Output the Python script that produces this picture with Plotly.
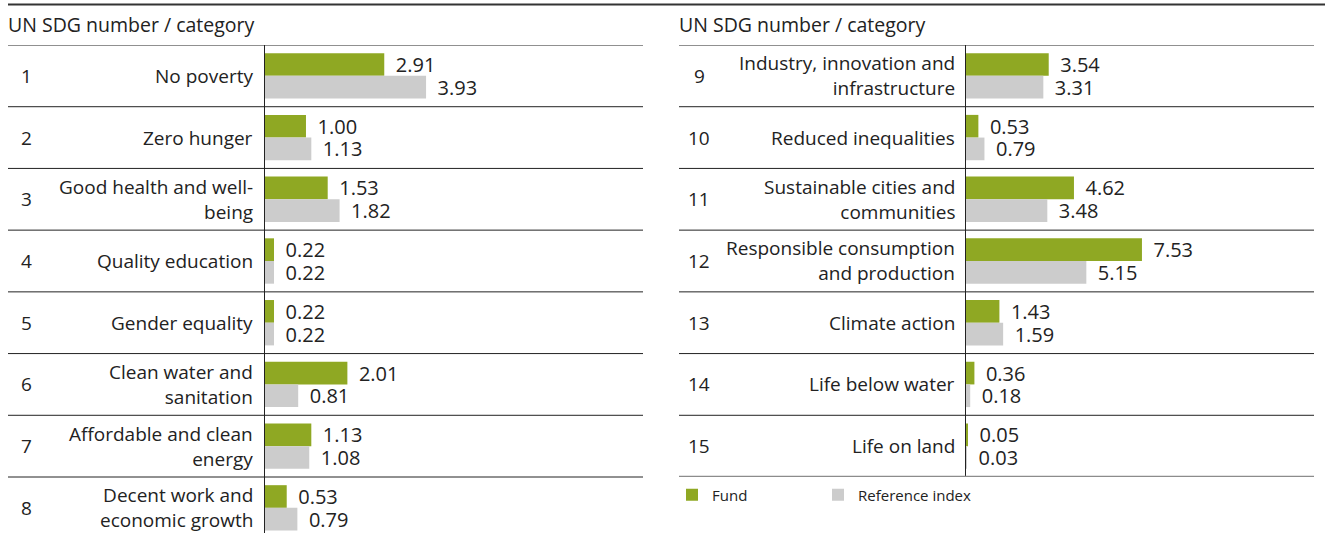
import plotly.graph_objects as go

W, H = 1325, 533

# ---------------- data ----------------
left_numbers = ["1", "2", "3", "4", "5", "6", "7", "8"]
left_categories = [
    "No poverty",
    "Zero hunger",
    "Good health and well-<br>being",
    "Quality education",
    "Gender equality",
    "Clean water and<br>sanitation",
    "Affordable and clean<br>energy",
    "Decent work and<br>economic growth",
]
left_fund = [2.91, 1.00, 1.53, 0.22, 0.22, 2.01, 1.13, 0.53]
left_ref = [3.93, 1.13, 1.82, 0.22, 0.22, 0.81, 1.08, 0.79]

right_numbers = ["9", "10", "11", "12", "13", "14", "15"]
right_categories = [
    "Industry, innovation and<br>infrastructure",
    "Reduced inequalities",
    "Sustainable cities and<br>communities",
    "Responsible consumption<br>and production",
    "Climate action",
    "Life below water",
    "Life on land",
]
right_fund = [3.54, 0.53, 4.62, 7.53, 1.43, 0.36, 0.05]
right_ref = [3.31, 0.79, 3.48, 5.15, 1.59, 0.18, 0.03]

series_names = ["Fund", "Reference index"]
header = "UN SDG number / category"

# ---------------- style ----------------
GREEN = "#8fa823"
GREY = "#cccccc"
TEXT = "#222222"
FONT = "Open Sans"
FS = 19

def px(x):
    return x / W

def py(y):
    return 1 - y / H

fig = go.Figure()

def add_bars(cats, fund, ref, xa, ya, show):
    for k, (name, vals, col) in enumerate([(series_names[0], fund, GREEN),
                                            (series_names[1], ref, GREY)]):
        fig.add_trace(go.Bar(
            y=cats, x=vals, orientation="h", name=name,
            marker=dict(color=col, line=dict(width=0)),
            texttemplate="\u00a0\u2009%{x:.2f}", textposition="outside",
            textfont=dict(family=FONT, size=20, color=TEXT),
            constraintext="none", cliponaxis=False,
            xaxis=xa, yaxis=ya, showlegend=show, legendgroup=name,
            legend="legend" if k == 0 else "legend2",
            hoverinfo="skip",
        ))

add_bars(left_categories, left_fund, left_ref, "x", "y", True)
add_bars(right_categories, right_fund, right_ref, "x2", "y2", False)

row_h = (477 - 45) / 7.0
left_bottom = -0.5 + (H - 45) / row_h

legend_common = dict(orientation="h", xanchor="left", y=py(495), yanchor="middle",
                     font=dict(family=FONT, size=15, color=TEXT), bgcolor="rgba(0,0,0,0)")

fig.update_layout(
    width=W, height=H,
    margin=dict(l=0, r=0, t=0, b=0),
    paper_bgcolor="white", plot_bgcolor="white",
    barmode="group", bargap=0.265, bargroupgap=0,
    font=dict(family=FONT, size=FS, color=TEXT),
    xaxis=dict(domain=[px(265), px(640)], range=[0, 9.15], visible=False, fixedrange=True),
    yaxis=dict(domain=[0, py(45)], type="category", categoryorder="array",
               categoryarray=left_categories, range=[left_bottom, -0.5],
               showticklabels=False, ticks="", showgrid=False, zeroline=False,
               showline=True, linecolor="#222222", linewidth=1),
    xaxis2=dict(domain=[px(966), px(1313)], range=[0, 14.85], visible=False, fixedrange=True),
    yaxis2=dict(domain=[py(477), py(45)], type="category", categoryorder="array",
                categoryarray=right_categories, range=[6.5, -0.5],
                showticklabels=False, ticks="", showgrid=False, zeroline=False,
                showline=True, linecolor="#222222", linewidth=1, anchor="x2"),
    showlegend=True,
    legend=dict(x=px(672), **legend_common),
    legend2=dict(x=px(818), **legend_common),
)

shapes = []
# top rule
shapes.append(dict(type="line", xref="paper", yref="paper", x0=px(8), x1=1, y0=py(4.5), y1=py(4.5),
                   line=dict(color="#333333", width=2)))
# left separators
for i in range(len(left_categories)):
    b = i - 0.5
    shapes.append(dict(type="line", xref="paper", yref="y", x0=px(8), x1=px(643), y0=b, y1=b,
                       line=dict(color="#222222", width=1)))
# right separators
for i in range(len(right_categories) + 1):
    b = i - 0.5
    last = i == len(right_categories)
    shapes.append(dict(type="line", xref="paper", yref="y2", x0=px(679), x1=px(1314), y0=b, y1=b,
                       line=dict(color="#8c8c8c" if last else "#222222", width=2.5 if last else 1)))
fig.update_layout(shapes=shapes)

ann = []
for x0 in (6, 677):
    ann.append(dict(text=header, xref="paper", yref="paper", x=px(x0), y=py(24),
                    xanchor="left", yanchor="middle", showarrow=False,
                    font=dict(family=FONT, size=19.5, color=TEXT)))
for nums, cats, yref, nx, cx in [(left_numbers, left_categories, "y", 26, 255),
                                  (right_numbers, right_categories, "y2", 699, 957)]:
    for n, c in zip(nums, cats):
        ann.append(dict(text=n, xref="paper", yref=yref, x=px(nx), y=c, xanchor="center",
                        yanchor="middle", showarrow=False, font=dict(family=FONT, size=FS, color=TEXT)))
        ann.append(dict(text=c, xref="paper", yref=yref, x=px(cx), y=c, xanchor="right",
                        yanchor="middle", align="right", showarrow=False,
                        font=dict(family=FONT, size=FS, color=TEXT)))
fig.update_layout(annotations=ann)

fig.write_html("out.html", config={"displayModeBar": False},
               post_script="document.body.style.margin='0';document.body.style.overflow='hidden';")
